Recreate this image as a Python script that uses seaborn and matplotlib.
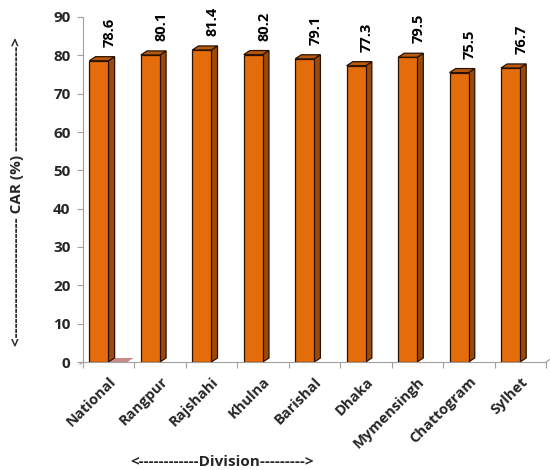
import matplotlib
matplotlib.use("Agg")
import matplotlib.pyplot as plt
from matplotlib.patches import Polygon
from matplotlib.transforms import ScaledTranslation
import numpy as np
import pandas as pd
import seaborn as sns

divisions = ["National", "Rangpur", "Rajshahi", "Khulna", "Barishal", "Dhaka",
             "Mymensingh", "Chattogram", "Sylhet"]
car_values = [78.6, 80.1, 81.4, 80.2, 79.1, 77.3, 79.5, 75.5, 76.7]
y_ticks = [0, 10, 20, 30, 40, 50, 60, 70, 80, 90]

sns.set_theme(style="white")
plt.rcParams['font.family'] = ['Open Sans', 'DejaVu Sans']

front_c = "#E46C0A"
side_c = "#9C4A0C"
top_c = "#B85A0E"
edge_c = "#2a1200"

fig = plt.figure(figsize=(5.5, 4.7), dpi=100)
ax = fig.add_axes([83/550, 1-362/470, (546-83)/550, (362-17)/470])

df = pd.DataFrame({"Division": divisions, "CAR": car_values})
sns.barplot(data=df, x="Division", y="CAR", color=front_c, width=0.37,
            edgecolor=edge_c, linewidth=0.9, saturation=1, ax=ax, zorder=3)

dx, dy = 0.12, 1.05
shift = -0.19
for p in ax.patches:
    p.set_x(p.get_x() + shift)
    x0 = p.get_x(); w = p.get_width(); h = p.get_height()
    x1 = x0 + w
    side = Polygon([(x1, 0), (x1 + dx, dy), (x1 + dx, h + dy), (x1, h)],
                   closed=True, facecolor=side_c, edgecolor=edge_c, lw=0.9, zorder=2)
    top = Polygon([(x0, h), (x1, h), (x1 + dx, h + dy), (x0 + dx, h + dy)],
                  closed=True, facecolor=top_c, edgecolor=edge_c, lw=0.9, zorder=4)
    ax.add_patch(side); ax.add_patch(top)

# flat floor marker right of first bar
p0 = ax.patches[0]
fx0 = p0.get_x() + p0.get_width() + 0.02
floor = Polygon([(fx0, 0), (fx0 + 0.35, 0), (fx0 + 0.35 + dx, dy), (fx0 + dx, dy)],
                closed=True, facecolor="#C98A8A", edgecolor="none", zorder=1, clip_on=False)
ax.add_patch(floor)

for i, v in enumerate(car_values):
    ax.text(i + 0.02, v + 3.6, f"{v:.1f}", rotation=90, ha="center", va="bottom",
            fontsize=10.5, fontweight="bold", color="black", zorder=5)

ax.set_xlim(-0.5, len(divisions) - 0.5)
ax.set_ylim(0, 90)
ax.set_yticks(y_ticks)
ax.set_yticklabels([str(t) for t in y_ticks], fontsize=11, fontweight="bold")
ax.set_xticks(range(len(divisions)))
ax.set_xticklabels(divisions, rotation=45, ha="right", rotation_mode="anchor",
                   fontsize=10.5, fontweight="bold")
off = ScaledTranslation(-7/100, 0, fig.dpi_scale_trans)
for lbl in ax.get_xticklabels():
    lbl.set_transform(lbl.get_transform() + off)
ax.set_xticks(np.arange(-0.5, len(divisions), 1.0), minor=True)
ax.tick_params(axis="x", which="major", length=0, pad=9)
ax.tick_params(axis="x", which="minor", length=4, color="#a0a0a0", width=0.8, direction="out")
ax.tick_params(axis="y", length=4, color="#a0a0a0", width=0.8, direction="out", pad=5)
ax.tick_params(axis="x", which="minor", bottom=True)
ax.tick_params(axis="y", left=True)
ax.set_xlabel(""); ax.set_ylabel("")

for s in ["top", "right"]:
    ax.spines[s].set_visible(False)
for s in ["left", "bottom"]:
    ax.spines[s].set_color("#a0a0a0")
    ax.spines[s].set_linewidth(0.8)

# slanted floor ends
ax.plot([len(divisions) - 0.5, len(divisions) - 0.5 + dx], [0, dy],
        color="#a0a0a0", lw=0.8, clip_on=False)
ax.plot([-0.5 - 0.06, -0.5], [-0.6, 0],
        color="#a0a0a0", lw=0.8, clip_on=False)

fig.text(222/550, 1-462/470, "<------------Division--------->", ha="center", va="center",
         fontsize=11, fontweight="bold")
fig.text(17/550, 1-192/470, "<" + "-"*24 + " CAR (%) " + "-"*21 + ">", rotation=90,
         ha="center", va="center", fontsize=11, fontweight="bold")

fig.savefig("out.png", dpi=100)
